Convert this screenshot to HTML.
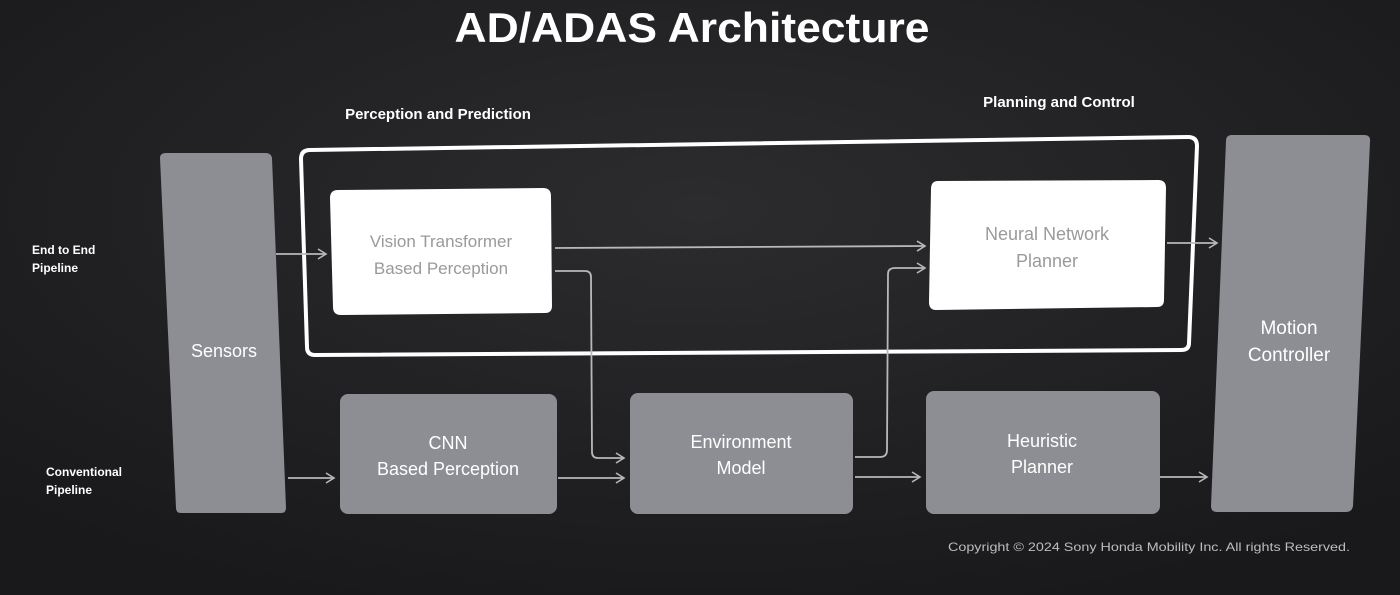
<!DOCTYPE html>
<html><head><style>
html,body{margin:0;padding:0;background:#1d1d1f;}
svg{display:block}
</style></head><body>
<svg width="1400" height="595" viewBox="0 0 1400 595" xmlns="http://www.w3.org/2000/svg" font-family="Liberation Sans, sans-serif">
<defs>
<radialGradient id="bg" cx="0.5" cy="0.35" r="0.7">
<stop offset="0" stop-color="#2c2c2e"/><stop offset="1" stop-color="#19191b"/>
</radialGradient>
<marker id="ar" markerWidth="12" markerHeight="12" refX="10" refY="6" orient="auto" markerUnits="userSpaceOnUse">
<path d="M2,1 L10,6 L2,11" fill="none" stroke="#b8b8b8" stroke-width="1.6"/>
</marker>
</defs>
<rect width="1400" height="595" fill="url(#bg)"/>
<text x="692" y="42" text-anchor="middle" fill="#fff" font-size="42" font-weight="bold" textLength="475" lengthAdjust="spacingAndGlyphs">AD/ADAS Architecture</text>
<text x="438" y="119" text-anchor="middle" fill="#fff" font-size="15" font-weight="bold">Perception and Prediction</text>
<text x="1059" y="107" text-anchor="middle" fill="#fff" font-size="15" font-weight="bold">Planning and Control</text>
<text x="32" y="254" fill="#fff" font-size="12" font-weight="bold">End to End</text>
<text x="32" y="272" fill="#fff" font-size="12" font-weight="bold">Pipeline</text>
<text x="46" y="476" fill="#fff" font-size="12" font-weight="bold">Conventional</text>
<text x="46" y="494" fill="#fff" font-size="12" font-weight="bold">Pipeline</text>

<g fill="#8c8e94" stroke-linejoin="round">
<path d="M166,153 L266,153 Q271,153 272,158 L286,508 Q286,513 281,513 L181,513 Q176,513 176,508 L160,158 Q160,153 166,153Z"/>
<path d="M1232,135 L1364,135 Q1371,135 1370,142 L1353,506 Q1352,512 1346,512 L1217,512 Q1211,512 1211,506 L1226,141 Q1226,135 1232,135Z"/>
<rect x="340" y="394" width="217" height="120" rx="8"/>
<rect x="630" y="393" width="223" height="121" rx="8"/>
<rect x="926" y="391" width="234" height="123" rx="8"/>
</g>
<path d="M310,150 L1188,137 Q1197,137 1197,146 L1189,343 Q1189,350 1181,350 L315,355 Q307,355 307,347 L301,159 Q301,150 310,150Z" fill="none" stroke="#fff" stroke-width="4"/>
<path d="M338,190 L543,188 Q551,188 551,196 L552,306 Q552,313 545,313 L341,315 Q333,315 333,307 L330,198 Q330,190 338,190Z" fill="#fff"/>
<path d="M938,181 L1158,180 Q1166,180 1166,188 L1164,300 Q1164,307 1157,307 L936,310 Q929,310 929,302 L931,189 Q931,181 938,181Z" fill="#fff"/>

<g fill="none" stroke="#b8b8b8" stroke-width="1.8" marker-end="url(#ar)">
<line x1="276" y1="254" x2="326" y2="254"/>
<line x1="288" y1="478" x2="334" y2="478"/>
<line x1="555" y1="248" x2="925" y2="246"/>
<path d="M555,271 L585,271 Q591,271 591,277 L592,452 Q592,458 598,458 L624,458"/>
<line x1="558" y1="478" x2="624" y2="478"/>
<path d="M855,457 L880,457 Q887,457 887,450 L888,274 Q888,268 895,268 L925,268"/>
<line x1="855" y1="477" x2="920" y2="477"/>
<line x1="1167" y1="243" x2="1217" y2="243"/>
<line x1="1160" y1="477" x2="1207" y2="477"/>
</g>

<g text-anchor="middle" font-size="18">
<text x="224" y="357" fill="#fff">Sensors</text>
<text x="1289" y="334" fill="#fff" font-size="19">Motion</text>
<text x="1289" y="361" fill="#fff" font-size="19">Controller</text>
<text x="441" y="247" fill="#9a9a9a" font-size="17">Vision Transformer</text>
<text x="441" y="274" fill="#9a9a9a" font-size="17">Based Perception</text>
<text x="1047" y="240" fill="#9a9a9a" font-size="18">Neural Network</text>
<text x="1047" y="267" fill="#9a9a9a" font-size="18">Planner</text>
<text x="448" y="449" fill="#fff">CNN</text>
<text x="448" y="475" fill="#fff">Based Perception</text>
<text x="741" y="448" fill="#fff">Environment</text>
<text x="741" y="474" fill="#fff">Model</text>
<text x="1042" y="447" fill="#fff">Heuristic</text>
<text x="1042" y="473" fill="#fff">Planner</text>
</g>
<text x="948" y="551" fill="#bdbdbd" font-size="12" textLength="402" lengthAdjust="spacingAndGlyphs">Copyright © 2024 Sony Honda Mobility Inc.  All rights Reserved.</text>
</svg>
</body></html>
